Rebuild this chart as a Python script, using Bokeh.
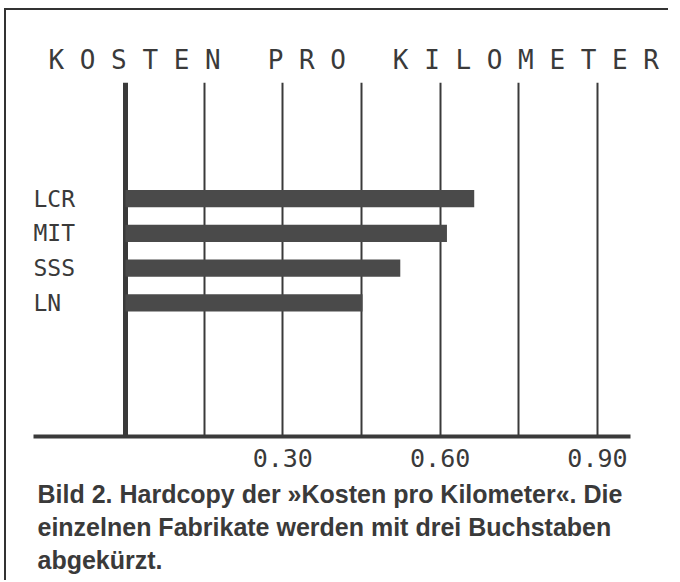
from bokeh.plotting import figure
from bokeh.models import Range1d, FixedTicker, Grid, NumeralTickFormatter, Title, ColumnDataSource
from bokeh.core.properties import value
from bokeh.embed import file_html
from bokeh.resources import INLINE

# ---- data ----
categories = ["LCR", "MIT", "SSS", "LN"]
costs = [0.665, 0.613, 0.524, 0.452]
grid_ticks = [0.15, 0.30, 0.45, 0.60, 0.75, 0.90]
label_ticks = [0.30, 0.60, 0.90]
title_words = ["K O S T E N", "P R O", "K I L O M E T E R"]
caption_lines = [
    "Bild 2. Hardcopy der \u00bbKosten pro Kilometer\u00ab. Die",
    "einzelnen Fabrikate werden mit drei Buchstaben",
    "abgek\u00fcrzt.",
]

INK = "#3a3a3a"
BAR = "#4a4a4a"
MONO = "DejaVu Sans Mono"

X_START, X_END = -0.1754, 0.963
Y_START, Y_END = -3.85, 6.345

n = len(categories)
ypos = [n - 1 - i for i in range(n)]
src = ColumnDataSource(dict(y=ypos, right=costs, cat=categories,
                            lx=[X_START] * n))

p = figure(width=664, height=572, output_backend="svg", toolbar_location=None,
           x_range=Range1d(X_START, X_END), y_range=Range1d(Y_START, Y_END),
           y_axis_location=None,
           min_border_left=27, min_border_right=40,
           min_border_top=72, min_border_bottom=145)
p.styles = {"border-top": "2px solid #333", "border-left": "2px solid #333",
            "margin-left": "4px", "margin-top": "8px"}
p.background_fill_color = "white"
p.border_fill_color = "white"
p.outline_line_color = None

# grids
p.xgrid.visible = False
p.ygrid.visible = False
g = Grid(dimension=0, ticker=FixedTicker(ticks=grid_ticks),
         grid_line_color=INK, grid_line_width=2)
g0 = Grid(dimension=0, ticker=FixedTicker(ticks=[0.0]),
          grid_line_color=INK, grid_line_width=5)
p.add_layout(g)
p.add_layout(g0)

# bars
p.hbar(y="y", right="right", left=0, height=0.5, source=src,
       fill_color=BAR, line_color=None)

# category labels
p.text(x="lx", y="y", text="cat", source=src, text_align="left",
       text_baseline="middle", text_font=value(MONO), text_font_size="23px",
       text_color=INK)

# x axis
ax = p.xaxis[0]
ax.ticker = FixedTicker(ticks=label_ticks)
ax.formatter = NumeralTickFormatter(format="0.00")
ax.axis_line_width = 4
ax.axis_line_color = INK
ax.major_tick_line_color = None
ax.minor_tick_line_color = None
ax.major_tick_out = 0
ax.major_tick_in = 0
ax.major_label_standoff = 12
ax.major_label_text_font = MONO
ax.major_label_text_font_size = "25px"
ax.major_label_text_color = INK

# title above (non-breaking spaces keep the wide gaps)
title_text = "\u00a0\u00a0\u00a0".join(title_words).replace(" ", "\u00a0")
p.add_layout(Title(text=title_text, align="left", offset=15, standoff=15,
                   text_font=MONO, text_font_size="26px",
                   text_font_style="normal", text_color=INK), "above")

# caption below (one multi-line title for even spacing)
p.add_layout(Title(text="\n".join(caption_lines), align="left", offset=4,
                   standoff=17, text_line_height=1.18,
                   text_font="Liberation Sans", text_font_style="bold",
                   text_font_size="25px", text_color=INK), "below")

open("out.html", "w").write(file_html(p, INLINE))
